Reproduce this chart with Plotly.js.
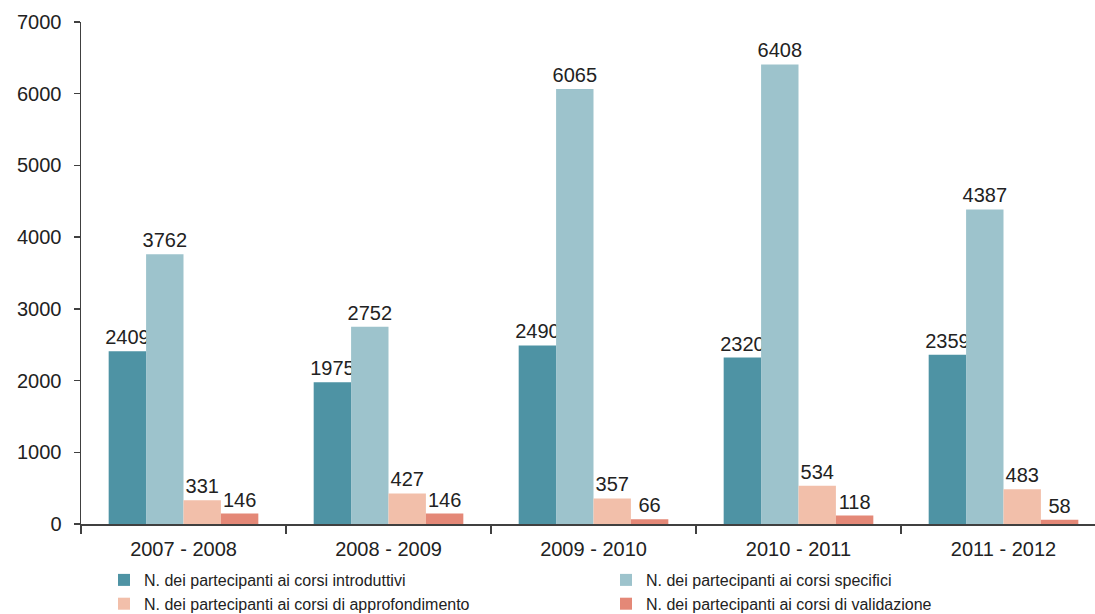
<!DOCTYPE html>
<html>
<head>
<meta charset="utf-8">
<script src="https://cdn.plot.ly/plotly-3.0.1.min.js"></script>
<style>
  html, body { margin: 0; padding: 0; background: #fff; overflow: hidden; }
  #chart { width: 1106px; height: 640px; }
</style>
</head>
<body>
<div id="chart"></div>
<script>
const categories = ["2007 - 2008", "2008 - 2009", "2009 - 2010", "2010 - 2011", "2011 - 2012"];
const seriesNames = [
  "N. dei partecipanti ai corsi introduttivi",
  "N. dei partecipanti ai corsi specifici",
  "N. dei partecipanti ai corsi di approfondimento",
  "N. dei partecipanti ai corsi di validazione"
];
const introduttivi = [2409, 1975, 2490, 2320, 2359];
const specifici = [3762, 2752, 6065, 6408, 4387];
const approfondimento = [331, 427, 357, 534, 483];
const validazione = [146, 146, 66, 118, 58];
const colors = ["#4E93A4", "#9DC3CC", "#F2BFAA", "#E48877"];
const legendIds = ["legend", "legend2", "legend", "legend2"];

const seriesValues = [introduttivi, specifici, approfondimento, validazione];
const font = "'Liberation Sans', Arial, sans-serif";
const W = 1106, H = 640;
const ML = 81, MT = 22, MB = H - 524;
const PW = W - ML, PH = H - MT - MB;

const traces = seriesValues.map((vals, i) => ({
  type: "bar",
  name: seriesNames[i],
  legend: legendIds[i],
  x: categories,
  y: vals,
  text: vals.map(String),
  textposition: "outside",
  constraintext: "none",
  textfont: { family: font, size: 20, color: "#222" },
  cliponaxis: false,
  marker: { color: colors[i], line: { width: 0 } },
  hoverinfo: "skip"
}));

const legendBase = {
  orientation: "v",
  xanchor: "left",
  yanchor: "top",
  y: -(563 - 524) / PH,
  traceorder: "normal",
  tracegroupgap: 0,
  font: { family: font, size: 16, color: "#222" },
  bgcolor: "rgba(0,0,0,0)"
};

const layout = {
  width: W,
  height: H,
  margin: { l: ML, r: 0, t: MT, b: MB },
  paper_bgcolor: "#fff",
  plot_bgcolor: "#fff",
  barmode: "group",
  bargap: 0.27,
  bargroupgap: 0,
  showlegend: true,
  legend: Object.assign({}, legendBase, { x: (104 - ML) / PW }),
  legend2: Object.assign({}, legendBase, { x: (606 - ML) / PW }),
  xaxis: {
    type: "category",
    showline: true,
    linecolor: "#404040",
    linewidth: 1.5,
    ticks: "outside",
    tickson: "boundaries",
    ticklen: 8,
    tickcolor: "#404040",
    tickwidth: 1.5,
    showgrid: false,
    zeroline: false,
    automargin: false,
    ticklabelstandoff: 6,
    tickfont: { family: font, size: 20, color: "#222" }
  },
  yaxis: {
    range: [0, 7000],
    dtick: 1000,
    tick0: 0,
    showline: true,
    linecolor: "#404040",
    linewidth: 1.5,
    ticks: "outside",
    ticklen: 6,
    tickcolor: "#404040",
    tickwidth: 1.5,
    showgrid: false,
    zeroline: false,
    automargin: false,
    ticklabelstandoff: 8,
    tickfont: { family: font, size: 20, color: "#222" }
  }
};

Plotly.newPlot("chart", traces, layout, { displayModeBar: false, staticPlot: true });
</script>
</body>
</html>
